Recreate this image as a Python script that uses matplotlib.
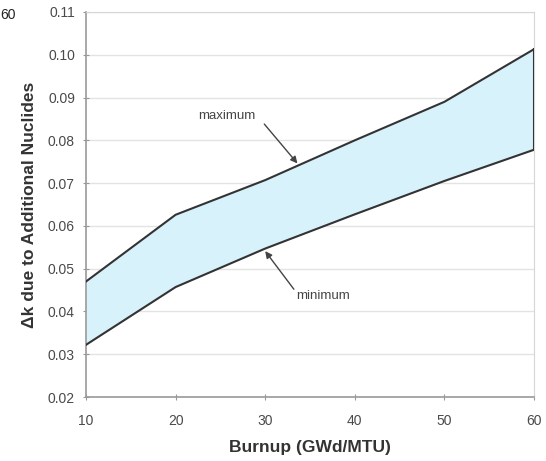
import matplotlib.pyplot as plt

plt.rcParams['font.family'] = ['Liberation Sans', 'DejaVu Sans']

# Burnup (GWd/MTU) y rangos de delta-k
burnup = [10, 20, 30, 40, 50, 60]
dk_max = [0.0470, 0.0626, 0.0707, 0.0800, 0.0890, 0.1013]
dk_min = [0.0322, 0.0457, 0.0547, 0.0627, 0.0705, 0.0778]

x_ticks = [10, 20, 30, 40, 50, 60]
y_ticks = [0.02, 0.03, 0.04, 0.05, 0.06, 0.07, 0.08, 0.09, 0.10, 0.11]

fig = plt.figure(figsize=(5.46, 4.61), dpi=100)
ax = fig.add_axes([0.1575, 0.1388, 0.8205, 0.8352])

line_col = "#333333"
ax.fill_between(burnup, dk_min, dk_max, color="#d8f2fc", linewidth=0, zorder=2)
ax.plot(burnup, dk_max, color=line_col, lw=1.5, zorder=3)
ax.plot(burnup, dk_min, color=line_col, lw=1.5, zorder=3)
ax.plot([burnup[-1], burnup[-1]], [dk_min[-1], dk_max[-1]], color=line_col, lw=1.5, zorder=3)

ax.set_xlim(10, 60)
ax.set_ylim(0.02, 0.11)
ax.set_xticks(x_ticks)
ax.set_yticks(y_ticks)
ax.set_yticklabels([f"{v:.2f}" for v in y_ticks])
ax.grid(axis="y", color="#e3e3e3", lw=1, zorder=1)

ax.tick_params(axis="both", labelsize=10, colors="#999999", labelcolor="#4a4a4a",
               direction="inout", length=4)
ax.tick_params(axis="x", pad=10)
ax.tick_params(axis="y", pad=6)
for side in ["left", "bottom"]:
    ax.spines[side].set_color("#999999")
    ax.spines[side].set_linewidth(1.2)
for side in ["top", "right"]:
    ax.spines[side].set_color("#d6d6d6")

ax.set_xlabel("Burnup (GWd/MTU)", fontsize=12.5, fontweight="bold", color="#333333", labelpad=9)
ax.set_ylabel("Δk due to Additional Nuclides", fontsize=12.5, fontweight="bold",
              color="#333333", labelpad=8)

# Anotaciones con flechas
arrow = dict(arrowstyle="-|>", color="#444444", lw=1, mutation_scale=10, shrinkA=0, shrinkB=0)
ax.text(22.5, 0.0856, "maximum", fontsize=9.5, color="#444444", ha="left", va="center")
ax.annotate("", xy=(33.6, 0.0746), xytext=(29.9, 0.0838), arrowprops=arrow)
ax.text(33.5, 0.0435, "minimum", fontsize=9.5, color="#444444", ha="left", va="center")
ax.annotate("", xy=(30.0, 0.0541), xytext=(33.2, 0.0452), arrowprops=arrow)

fig.text(0.0, 0.968, "60", fontsize=10, color="#222222", ha="left", va="center")

fig.savefig("out.png", dpi=100)
